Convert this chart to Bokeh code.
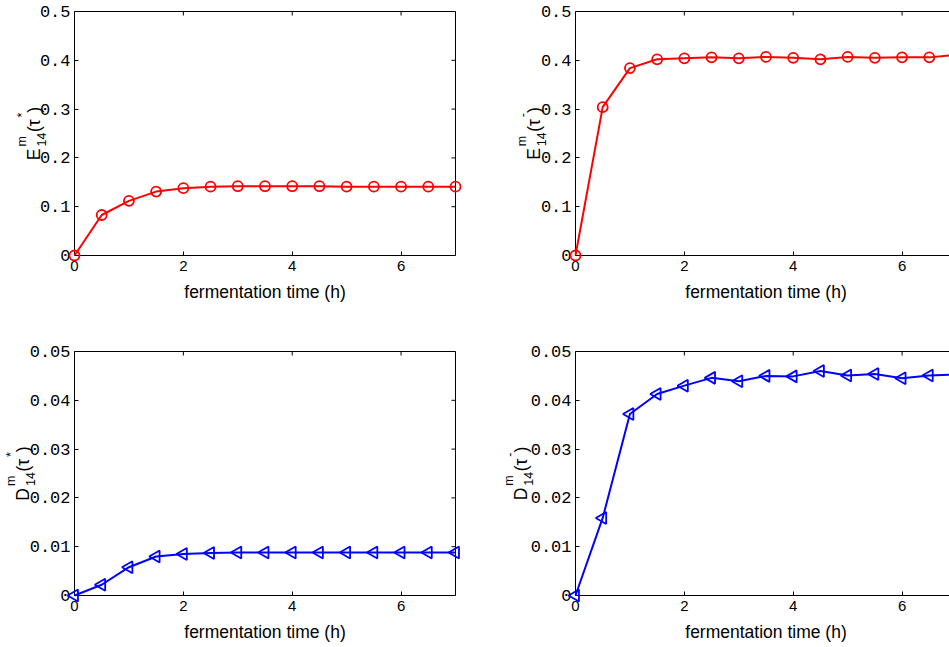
from math import pi
from bokeh.plotting import figure
from bokeh.models import LinearAxis, FixedTicker, CustomJSTickFormatter, Range1d
from bokeh.core.properties import value
from bokeh.layouts import column, row
from bokeh.embed import file_html
from bokeh.resources import INLINE

# ---------------- data ----------------
time_h = [0, 0.5, 1, 1.5, 2, 2.5, 3, 3.5, 4, 4.5, 5, 5.5, 6, 6.5, 7]
e_star = [0, 0.083, 0.112, 0.131, 0.138, 0.141, 0.142, 0.142, 0.142, 0.142,
          0.141, 0.141, 0.141, 0.141, 0.141]
e_minus = [0, 0.304, 0.384, 0.402, 0.404, 0.406, 0.404, 0.407, 0.405, 0.402,
           0.407, 0.405, 0.406, 0.406, 0.411]
d_star = [0, 0.0022, 0.0058, 0.0080, 0.0085, 0.0087, 0.0088, 0.0088, 0.0088,
          0.0088, 0.0088, 0.0088, 0.0088, 0.0088, 0.0088]
d_minus = [0, 0.0159, 0.0372, 0.0413, 0.0430, 0.0446, 0.0439, 0.0450, 0.0449,
           0.0460, 0.0451, 0.0454, 0.0445, 0.0451, 0.0453]

x_ticks = [0, 2, 4, 6]
e_ticks = [0, 0.1, 0.2, 0.3, 0.4, 0.5]
d_ticks = [0, 0.01, 0.02, 0.03, 0.04, 0.05]
x_title = "fermentation time (h)"
sup_index = "m"
sub_index = "14"
tau_star = "*"
tau_minus = "-"
t_max = 7

RED = "#ff0000"
BLUE = "#0000ff"
SANS = "Liberation Sans"
MONO = "Liberation Mono"
BIG = 17.5
SMALL = 12.5


def style_axis(ax, ticks, mono):
    ax.ticker = FixedTicker(ticks=ticks)
    ax.minor_tick_line_color = None
    ax.major_tick_in = 4
    ax.major_tick_out = 0
    ax.axis_line_color = "black"
    ax.axis_line_width = 1
    ax.major_tick_line_color = "black"
    ax.formatter = CustomJSTickFormatter(code="return String(tick);")
    ax.major_label_text_font = MONO if mono else SANS
    ax.major_label_text_font_size = "17px" if mono else "15px"
    ax.major_label_text_color = "black"
    ax.major_label_standoff = 4 if mono else 5


def bare_axis():
    ax = LinearAxis(ticker=FixedTicker(ticks=[]))
    ax.axis_line_color = "black"
    ax.axis_line_width = 1
    ax.minor_tick_line_color = None
    ax.major_tick_line_color = None
    ax.major_label_standoff = 0
    return ax


def add_text(p, x, y, text, size, dx, dy, angle=0.0, align="left"):
    r = p.text(x=[x], y=[y], text=[text], angle=angle, x_offset=dx, y_offset=dy,
               text_font=value(SANS), text_font_size=f"{size}px", text_align=align,
               text_baseline="alphabetic", text_color="black")
    r.level = "overlay"


def add_ylabel(p, y_mid, letter, tau_sup, bx):
    w_letter = (0.722 if letter == "D" else 0.667) * BIG
    w_scripts = 1.112 * SMALL
    w_paren_tau = (0.333 + 0.5) * BIG
    w_sup = (0.389 if tau_sup == "*" else 0.333) * SMALL
    total = w_letter + 2 + w_scripts + 0.5 + w_paren_tau + w_sup + 0.333 * BIG
    pieces = []
    t = 0.0
    pieces.append((letter, BIG, t, 0))
    t += w_letter + 2
    pieces.append((sup_index, SMALL, t, 12))
    pieces.append((sub_index, SMALL, t, -7))
    t += w_scripts + 0.5
    pieces.append(("(\u03c4", BIG, t, 0))
    t += w_paren_tau
    pieces.append((tau_sup, SMALL, t, 12))
    t += w_sup
    pieces.append((")", BIG, t, 0))
    for text, size, tt, shift in pieces:
        add_text(p, 0, y_mid, text, size, bx - shift, total / 2 - tt, angle=pi / 2)


def panel(width, height, b_left, b_right, b_top, b_bottom, x_end, y_end, y_ticks,
          right_side, ys, color, marker, letter, tau_sup, label_bx):
    p = figure(width=width, height=height, x_range=Range1d(0, x_end),
               y_range=Range1d(0, y_end), output_backend="svg", toolbar_location=None,
               min_border_left=b_left, min_border_right=b_right,
               min_border_top=b_top, min_border_bottom=b_bottom)
    p.grid.visible = False
    p.outline_line_color = None
    p.background_fill_color = "white"
    p.border_fill_color = "white"

    xa = p.xaxis[0]
    ya = p.yaxis[0]
    style_axis(xa, x_ticks, False)
    style_axis(ya, y_ticks, True)
    p.add_layout(bare_axis(), "above")
    if not right_side:
        p.add_layout(bare_axis(), "right")

    # inward tick marks on the top (and right) frame edges, clipped to the frame
    top_ticks = [t for t in x_ticks if 0 < t < x_end]
    p.scatter(top_ticks, [y_end] * len(top_ticks), marker="dash", angle=pi / 2,
              size=8, line_color="black", line_width=1)
    if not right_side:
        p.scatter([x_end] * len(y_ticks), y_ticks, marker="dash", size=8,
                  line_color="black", line_width=1)

    # x-axis title, centred on the full 0..t_max axis
    add_text(p, t_max / 2, 0, x_title, BIG, 0, 36, align="center")

    ln = p.line(time_h, ys, line_color=color, line_width=2)
    ln.level = "overlay"
    if marker == "circle":
        sc = p.scatter(time_h, ys, marker="circle", size=10, fill_color=None,
                       line_color=color, line_width=1.8)
    else:
        sc = p.scatter(time_h, ys, marker="triangle", angle=pi / 2, size=12,
                       fill_color=None, line_color=color, line_width=1.8)
    sc.level = "overlay"

    add_ylabel(p, y_end / 2, letter, tau_sup, label_bx)
    return p


LEFT_W, RIGHT_W = 480, 469
LEFT_FRAME = LEFT_W - 74 - 25
X_END_RIGHT = (RIGHT_W - 95) / (LEFT_FRAME / t_max)

p1 = panel(LEFT_W, 331, 74, 25, 11, 76, t_max, 0.5, e_ticks, False, e_star, RED, "circle",
           "E", tau_star, -40.5)
p2 = panel(RIGHT_W, 331, 95, 0, 11, 76, X_END_RIGHT, 0.5, e_ticks, True, e_minus, RED,
           "circle", "E", tau_minus, -41.5)
p3 = panel(LEFT_W, 316, 74, 25, 20, 52, t_max, 0.05, d_ticks, False, d_star, BLUE,
           "triangle", "D", tau_star, -51.5)
p4 = panel(RIGHT_W, 316, 95, 0, 20, 52, X_END_RIGHT, 0.05, d_ticks, True, d_minus, BLUE,
           "triangle", "D", tau_minus, -54.5)

layout = column(row(p1, p2), row(p3, p4))
open("out.html", "w").write(file_html(layout, INLINE))
